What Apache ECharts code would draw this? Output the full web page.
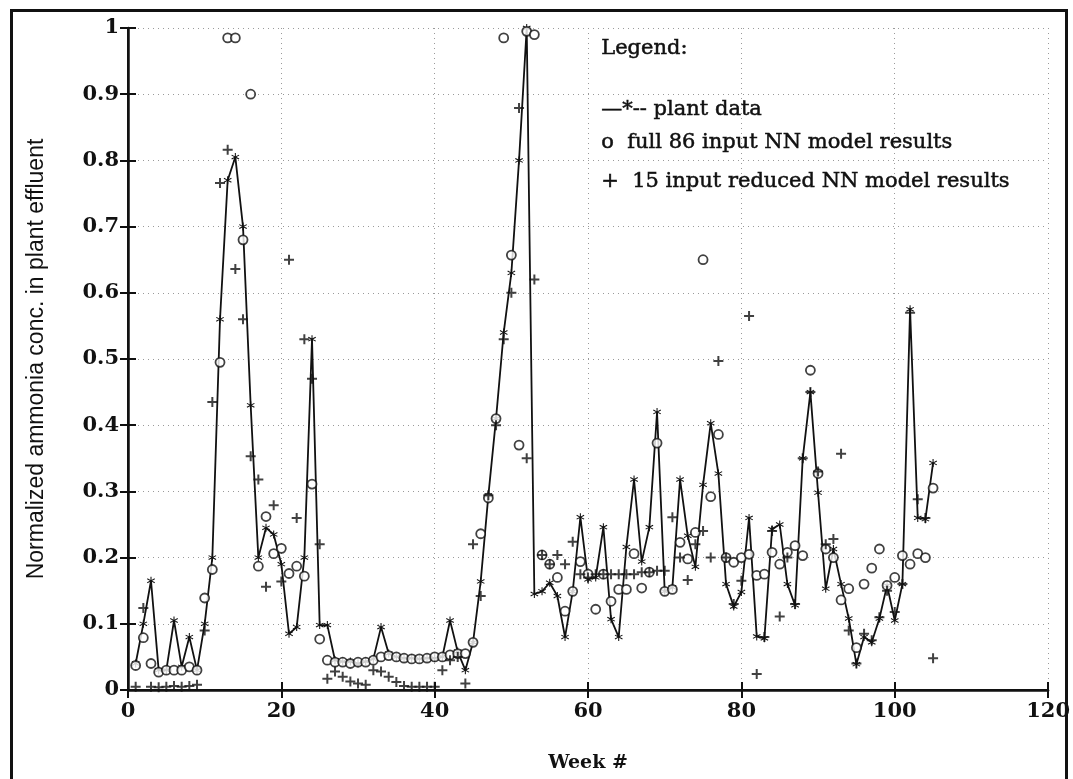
<!DOCTYPE html>
<html>
<head>
<meta charset="utf-8">
<script src="https://cdn.jsdelivr.net/npm/echarts@6/dist/echarts.min.js"></script>
<style>
  html, body { margin: 0; padding: 0; background: #fff; }
  #frame { position: absolute; left: 10px; top: 9px; width: 1058px; height: 780px;
    border-top: 3px solid #111; border-left: 3px solid #111; border-right: 3px solid #111; box-sizing: border-box; }
  #chart { position: absolute; left: 0; top: 0; width: 1073px; height: 779px; }
</style>
</head>
<body>
<div id="frame"></div>
<div id="chart"></div>
<script>
// week numbers start at 1, one value per week
const firstWeek = 1
const xTicks = [0, 20, 40, 60, 80, 100, 120]
const yTicks = [0, 0.1, 0.2, 0.3, 0.4, 0.5, 0.6, 0.7, 0.8, 0.9, 1]

// plant data (line with * markers)
const plantData = [
  0.04, 0.10, 0.165, 0.03, 0.03, 0.105, 0.035, 0.08, 0.03, 0.10,
  0.20, 0.56, 0.77, 0.805, 0.70, 0.43, 0.20, 0.245, 0.235, 0.19,
  0.085, 0.095, 0.20, 0.53, 0.098, 0.098, 0.045, 0.043, 0.043, 0.040,
  0.043, 0.047, 0.095, 0.055, 0.050, 0.048, 0.048, 0.047, 0.048, 0.048,
  0.050, 0.105, 0.058, 0.030, 0.072, 0.164, 0.294, 0.41, 0.54, 0.63,
  0.80, 1.0, 0.145, 0.149, 0.162, 0.142, 0.08, 0.149, 0.261, 0.167,
  0.17, 0.246, 0.107, 0.08, 0.216, 0.318, 0.194, 0.246, 0.42, 0.149,
  0.155, 0.318, 0.233, 0.186, 0.31, 0.403, 0.327, 0.16, 0.126, 0.148,
  0.26, 0.081, 0.078, 0.243, 0.25, 0.16, 0.128, 0.35, 0.45, 0.298,
  0.153, 0.213, 0.16, 0.108, 0.039, 0.08, 0.072, 0.108, 0.158, 0.105,
  0.16, 0.575, 0.26, 0.258, 0.343
]

// full 86 input NN model results (o)
const fullModel = [
  0.037, 0.079, 0.04, 0.027, 0.03, 0.03, 0.03, 0.035, 0.03, 0.139,
  0.182, 0.495, 0.985, 0.985, 0.68, 0.90, 0.187, 0.262, 0.206, 0.214,
  0.176, 0.187, 0.172, 0.311, 0.077, 0.045, 0.042, 0.042, 0.040, 0.042,
  0.042, 0.045, 0.050, 0.052, 0.050, 0.048, 0.047, 0.047, 0.048, 0.050,
  0.050, 0.053, 0.055, 0.055, 0.072, 0.236, 0.29, 0.41, 0.985, 0.657,
  0.37, 0.995, 0.99, 0.204, 0.19, 0.17, 0.119, 0.149, 0.194, 0.175,
  0.122, 0.175, 0.134, 0.152, 0.152, 0.206, 0.154, 0.178, 0.373, 0.149,
  0.152, 0.223, 0.198, 0.238, 0.65, 0.292, 0.386, 0.20, 0.193, 0.20,
  0.205, 0.173, 0.175, 0.208, 0.19, 0.208, 0.218, 0.203, 0.483, 0.327,
  0.213, 0.20, 0.136, 0.153, 0.064, 0.16, 0.184, 0.213, 0.158, 0.17,
  0.203, 0.19, 0.206, 0.20, 0.305
]

// 15 input reduced NN model results (+)
const reducedModel = [
  0.005, 0.124, 0.005, 0.004, 0.005, 0.006, 0.005, 0.006, 0.008, 0.09,
  0.435, 0.766, 0.816, 0.636, 0.56, 0.353, 0.318, 0.156, 0.279, 0.164,
  0.65, 0.26, 0.53, 0.47, 0.22, 0.017, 0.028, 0.02, 0.013, 0.01,
  0.008, 0.03, 0.028, 0.02, 0.012, 0.006, 0.005, 0.005, 0.005, 0.005,
  0.03, 0.045, 0.05, 0.01, 0.22, 0.142, 0.294, 0.40, 0.53, 0.60,
  0.879, 0.35, 0.62, 0.204, 0.19, 0.204, 0.19, 0.224, 0.175, 0.17,
  0.175, 0.175, 0.175, 0.175, 0.175, 0.175, 0.178, 0.178, 0.18, 0.18,
  0.261, 0.20, 0.166, 0.22, 0.24, 0.20, 0.497, 0.20, 0.13, 0.165,
  0.565, 0.024, 0.08, 0.24, 0.111, 0.20, 0.13, 0.35, 0.45, 0.33,
  0.22, 0.228, 0.357, 0.09, 0.04, 0.085, 0.075, 0.11, 0.15, 0.118,
  0.16, 0.57, 0.288, 0.26, 0.048
]

const legendLines = [
  'Legend:',
  '\u2014*-- plant data',
  'o  full 86 input NN model results',
  '+  15 input reduced NN model results'
]

const toPoints = arr => arr.map((v, i) => [firstWeek + i, v])

const starPath = 'path://M3.5,0H4.5V3.2L7.3,1.6L7.8,2.5L5,4L7.8,5.5L7.3,6.4L4.5,4.8V8H3.5V4.8L0.7,6.4L0.2,5.5L3,4L0.2,2.5L0.7,1.6L3.5,3.2Z'
const plusPath = 'path://M3.2,0H4.8V3.2H8V4.8H4.8V8H3.2V4.8H0V3.2H3.2Z'

const tickFont = {
  fontFamily: 'DejaVu Serif',
  fontWeight: 'bold',
  fontSize: 21,
  color: '#111'
}
const gridLine = {
  show: true,
  lineStyle: { color: '#9a9a9a', type: [1, 4], width: 1 }
}
const frameAxis = {
  axisLine: { show: true, lineStyle: { color: '#111', width: 2 } },
  axisTick: { show: true, inside: true, length: 8, lineStyle: { color: '#111', width: 2 } },
  axisLabel: { show: false },
  splitLine: { show: false }
}

const chart = echarts.init(document.getElementById('chart'), null, { renderer: 'canvas' })

const option = {
  animation: false,
  backgroundColor: 'transparent',
  grid: { left: 128, right: 17, top: 28, bottom: 89 },
  xAxis: [
    {
      type: 'value',
      min: xTicks[0],
      max: xTicks[xTicks.length - 1],
      interval: 20,
      name: 'Week #',
      nameLocation: 'middle',
      nameGap: 64,
      nameTextStyle: { fontFamily: 'DejaVu Serif', fontWeight: 'bold', fontSize: 19, color: '#111' },
      axisLine: { lineStyle: { color: '#111', width: 2.5 } },
      axisTick: { inside: true, length: 8, lineStyle: { color: '#111', width: 2 } },
      axisLabel: { ...tickFont, margin: 11 },
      splitLine: gridLine
    },
    {
      type: 'value',
      position: 'top',
      min: xTicks[0],
      max: xTicks[xTicks.length - 1],
      interval: 20,
      ...frameAxis
    }
  ],
  yAxis: [
    {
      type: 'value',
      min: yTicks[0],
      max: yTicks[yTicks.length - 1],
      interval: 0.1,
      name: 'Normalized ammonia conc. in plant effluent',
      nameLocation: 'middle',
      nameGap: 80,
      nameTextStyle: { fontFamily: 'Liberation Sans', fontSize: 23, color: '#111' },
      axisLine: { lineStyle: { color: '#111', width: 2.5 } },
      axisTick: { inside: true, length: 8, lineStyle: { color: '#111', width: 2 } },
      axisLabel: {
        ...tickFont,
        margin: 9,
        formatter: v => (v === 0 || v === 1) ? String(v) : v.toFixed(1)
      },
      splitLine: gridLine
    },
    {
      type: 'value',
      position: 'right',
      min: yTicks[0],
      max: yTicks[yTicks.length - 1],
      interval: 0.1,
      ...frameAxis
    }
  ],
  graphic: legendLines.map((t, i) => ({
    type: 'text',
    left: 601,
    top: [38, 99, 132, 171][i],
    style: {
      text: t,
      fill: '#111',
      stroke: '#111',
      lineWidth: 0.5,
      font: '21px "DejaVu Serif"'
    },
    z: 10
  })),
  series: [
    {
      name: 'plant data',
      type: 'line',
      data: toPoints(plantData),
      symbol: starPath,
      symbolSize: 8,
      showAllSymbol: true,
      lineStyle: { color: '#111', width: 1.8 },
      itemStyle: { color: '#111' },
      z: 3
    },
    {
      name: 'full 86 input NN model results',
      type: 'scatter',
      data: toPoints(fullModel),
      symbol: 'circle',
      symbolSize: 9,
      itemStyle: { color: '#fff', borderColor: '#111', borderWidth: 1.8 },
      z: 4
    },
    {
      name: '15 input reduced NN model results',
      type: 'scatter',
      data: toPoints(reducedModel),
      symbol: plusPath,
      symbolSize: 10,
      itemStyle: { color: '#111' },
      z: 5
    }
  ]
}

chart.setOption(option)
</script>
</body>
</html>
